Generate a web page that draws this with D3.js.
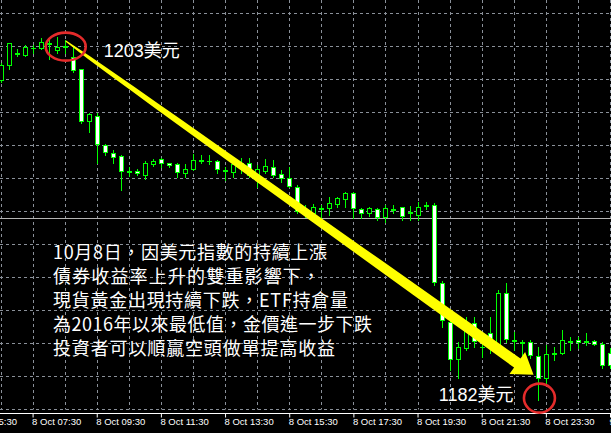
<!DOCTYPE html>
<html>
<head>
<meta charset="utf-8">
<script src="https://cdn.jsdelivr.net/npm/d3@7"></script>
<style>
html, body { margin: 0; padding: 0; background: #000; overflow: hidden; }
svg { display: block; }
</style>
</head>
<body>
<div id="chart"></div>
<script>
// XAUUSD, M15 bars, 8 Oct 2018
var firstBar = "2018-10-08 06:30";

var opens = [1200.96,1201.87,1202.62,1202.47,1202.87,1202.92,1203.14,1202.78,1202.99,1202.37,
             1201.61,1198.47,1198.79,1197.02,1196.55,1196.35,1195.40,1195.46,1195.20,1195.87,
             1196.15,1195.91,1195.85,1195.30,1195.55,1196.05,1196.05,1196.07,1195.46,1195.40,
             1195.95,1195.95,1195.20,1195.46,1195.67,1195.24,1195.04,1194.49,1193.02,1192.92,
             1193.22,1193.18,1193.44,1193.73,1194.09,1193.14,1192.88,1193.14,1192.67,1193.12,
             1193.24,1192.98,1192.78,1193.38,1193.38,1188.67,1186.31,1184.03,1184.70,1186.25,
             1184.78,1185.61,1184.59,1188.03,1185.17,1185.10,1185.10,1184.23,1182.88,1184.41,
             1184.39,1185.11,1185.20,1185.11,1185.14,1184.96,1184.39];
var highs = [1201.99,1203.20,1202.81,1203.05,1203.08,1203.48,1203.48,1203.55,1203.38,1202.98,
             1201.62,1198.93,1198.94,1197.05,1196.72,1196.41,1195.70,1195.55,1196.07,1196.15,
             1196.23,1195.93,1195.91,1195.85,1196.47,1196.41,1196.41,1196.11,1195.70,1196.21,
             1196.21,1196.25,1195.81,1196.15,1196.11,1195.50,1195.70,1194.59,1193.38,1193.44,
             1193.38,1193.88,1193.88,1194.19,1194.19,1193.18,1193.28,1193.18,1193.38,1193.38,
             1193.28,1193.32,1193.58,1193.58,1193.48,1188.79,1186.82,1185.10,1186.61,1186.61,
             1185.40,1186.61,1188.23,1188.67,1185.70,1185.20,1185.20,1184.79,1184.90,1184.79,
             1185.81,1185.40,1185.40,1185.61,1185.20,1185.10,1184.70];
var lows = [1200.84,1201.65,1202.41,1202.41,1202.59,1202.84,1202.23,1202.58,1202.58,1201.46,
            1198.33,1197.82,1195.91,1196.41,1195.91,1194.29,1195.14,1195.20,1194.94,1195.75,
            1195.70,1195.67,1195.10,1195.10,1195.50,1195.91,1195.85,1195.30,1194.90,1195.10,
            1195.30,1195.10,1194.49,1195.30,1195.10,1194.79,1194.49,1192.88,1192.67,1192.72,
            1192.05,1192.78,1193.28,1193.28,1192.58,1192.58,1192.72,1192.47,1192.37,1192.88,
            1192.47,1192.47,1192.47,1193.12,1188.53,1186.01,1183.38,1182.88,1184.59,1184.79,
            1184.15,1184.39,1184.39,1185.10,1184.59,1184.29,1184.09,1181.56,1182.58,1183.99,
            1184.36,1184.59,1184.70,1184.90,1184.90,1183.48,1183.50];
var closes = [1201.87,1203.17,1202.56,1202.98,1202.90,1203.28,1203.20,1202.98,1202.96,1201.56,
              1198.49,1198.88,1197.08,1196.61,1196.31,1195.46,1195.43,1195.30,1195.91,1196.07,
              1195.91,1195.79,1195.40,1195.56,1196.11,1196.08,1196.02,1195.55,1195.49,1195.87,
              1195.70,1195.20,1195.55,1195.75,1195.20,1195.04,1194.53,1193.02,1192.98,1193.24,
              1193.12,1193.52,1193.79,1194.09,1193.18,1192.88,1193.18,1192.67,1193.18,1193.09,
              1192.72,1192.90,1193.24,1193.35,1188.73,1186.41,1184.03,1184.76,1185.81,1185.16,
              1184.75,1185.20,1188.03,1185.24,1185.14,1185.00,1184.29,1182.88,1184.35,1184.38,
              1185.20,1185.08,1185.06,1185.08,1184.96,1183.68,1183.68];

// time axis labels (every 2 hours)
var tickTimes = ["2018-10-08 05:30","2018-10-08 07:30","2018-10-08 09:30","2018-10-08 11:30",
                 "2018-10-08 13:30","2018-10-08 15:30","2018-10-08 17:30","2018-10-08 19:30",
                 "2018-10-08 21:30","2018-10-08 23:30","2018-10-09 01:30"];

// horizontal price line
var levelPrice = 1192.58;

// annotations
var highMark = { time: "2018-10-08 08:32", price: 1202.98, label: "1203美元" };
var lowMark  = { time: "2018-10-08 23:18", price: 1181.68, label: "1182美元" };
var arrowFrom = { time: "2018-10-08 08:32", price: 1203.32 };
var arrowTo   = { time: "2018-10-08 23:07", price: 1183.10 };
var noteLines = ["10月8日，因美元指數的持續上漲",
                 "債券收益率上升的雙重影響下，",
                 "現貨黃金出現持續下跌，ETF持倉量",
                 "為2016年以來最低值，金價進一步下跌",
                 "投資者可以順贏空頭做單提高收益"];

var W = 611, H = 433;
var M15 = 15 * 60 * 1000;
var parse = d3.timeParse("%Y-%m-%d %H:%M");
var fmtTick = d3.timeFormat("%-d %b %H:%M");
var t0 = parse(firstBar);
var times = opens.map(function(d, i){ return new Date(+t0 + i * M15); });

var bars = opens.map(function(o, i){
	return { t: times[i], o: o, h: highs[i], l: lows[i], c: closes[i] };
});

var green = "#00ff00";
var gridColor = "#8a9099";

var svg = d3.select("#chart")
	.append("svg")
	.attr("width", W)
	.attr("height", H)
	.style("background", "#000");

// x and y
var x = d3.scaleTime()
	.domain([t0, times[times.length - 1]])
	.range([0.5, 0.5 + 8.02 * (times.length - 1)]);

var y = d3.scaleLinear()
	.domain([1181, 1205])
	.range([409.3, 13.3]);

var gridBottom = Math.round(y(1181)) + 0.5;

// grid, vertical every hour
var gridG = svg.append("g").attr("class", "grid");
var vTimes = d3.range(-4, times.length + 4, 4).map(function(k){ return new Date(+t0 + k * M15); });
gridG.selectAll("line.v")
	.data(vTimes)
	.enter().append("line")
	.attr("class", "v")
	.attr("x1", function(d){ return Math.round(x(d)) + 0.5; })
	.attr("x2", function(d){ return Math.round(x(d)) + 0.5; })
	.attr("y1", 0)
	.attr("y2", gridBottom)
	.attr("stroke", gridColor)
	.attr("stroke-dasharray", "3,3");

// grid, horizontal every 2 dollars
gridG.selectAll("line.h")
	.data(d3.range(1181, 1206, 2))
	.enter().append("line")
	.attr("class", "h")
	.attr("x1", 0)
	.attr("x2", W)
	.attr("y1", function(d){ return Math.round(y(d)) + 0.5; })
	.attr("y2", function(d){ return Math.round(y(d)) + 0.5; })
	.attr("stroke", gridColor)
	.attr("stroke-dasharray", "3,3");

// price line
svg.append("line")
	.attr("x1", 0).attr("x2", W)
	.attr("y1", Math.round(y(levelPrice)) + 0.5)
	.attr("y2", Math.round(y(levelPrice)) + 0.5)
	.attr("stroke", "#b4b4b4");

// candles
var candle = svg.append("g").attr("class", "candles")
	.selectAll("g")
	.data(bars)
	.enter().append("g");

candle.append("rect")   // wick
	.attr("x", function(d){ return Math.round(x(d.t)); })
	.attr("width", 1)
	.attr("y", function(d){ return Math.round(y(d.h)); })
	.attr("height", function(d){ return Math.round(y(d.l)) - Math.round(y(d.h)) + 1; })
	.attr("fill", green);

candle.append("rect")   // body outline
	.attr("x", function(d){ return Math.round(x(d.t)) - 2; })
	.attr("width", 5)
	.attr("y", function(d){ return Math.round(y(Math.max(d.o, d.c))); })
	.attr("height", function(d){
		return Math.round(y(Math.min(d.o, d.c))) - Math.round(y(Math.max(d.o, d.c))) + 1; })
	.attr("fill", green);

candle.append("rect")   // body fill: black up, white down
	.attr("x", function(d){ return Math.round(x(d.t)) - 1; })
	.attr("width", 3)
	.attr("y", function(d){ return Math.round(y(Math.max(d.o, d.c))) + 1; })
	.attr("height", function(d){
		return Math.max(0, Math.round(y(Math.min(d.o, d.c))) - Math.round(y(Math.max(d.o, d.c))) - 1); })
	.attr("fill", function(d){ return d.c > d.o ? "#000" : "#fff"; });

// x axis
var xAxisCall = d3.axisBottom(x)
	.tickValues(tickTimes.map(parse))
	.tickFormat(fmtTick)
	.tickSize(4)
	.tickSizeOuter(0);

var axisY = gridBottom + 4;
var xAxis = svg.append("g")
	.attr("class", "x-axis")
	.attr("transform", "translate(0," + axisY + ")")
	.call(xAxisCall);
xAxis.select(".domain").remove();
xAxis.selectAll(".tick line").attr("stroke", "#fff");
xAxis.selectAll(".tick text")
	.attr("fill", "#fff")
	.attr("font-family", "'Liberation Sans', Arial, sans-serif")
	.attr("font-size", "9.5px")
	.attr("text-anchor", "start")
	.attr("x", -1)
	.attr("y", 11)
	.attr("dy", 0);
svg.append("line")
	.attr("x1", 0).attr("x2", W)
	.attr("y1", axisY).attr("y2", axisY)
	.attr("stroke", "#fff");

// arrow, tapered shaft
var S = [x(parse(arrowFrom.time)), y(arrowFrom.price)];
var T = [x(parse(arrowTo.time)), y(arrowTo.price)];
var len = Math.hypot(T[0] - S[0], T[1] - S[1]);
var u = [(T[0] - S[0]) / len, (T[1] - S[1]) / len];
var n = [-u[1], u[0]];
var headLen = 20, headHalf = 13.5, w0 = 0.6, w1 = 5.5;
var shaftLen = len - headLen;
var left = [], right = [];
d3.range(0, 21).forEach(function(k){
	var f = k / 20;
	var hw = w0 + (w1 - w0) * Math.sqrt(f);
	var p = [S[0] + u[0] * shaftLen * f, S[1] + u[1] * shaftLen * f];
	left.push([p[0] + n[0] * hw, p[1] + n[1] * hw]);
	right.push([p[0] - n[0] * hw, p[1] - n[1] * hw]);
});
var B = [S[0] + u[0] * shaftLen, S[1] + u[1] * shaftLen];
var pts = left.concat([
	[B[0] + n[0] * headHalf, B[1] + n[1] * headHalf],
	T,
	[B[0] - n[0] * headHalf, B[1] - n[1] * headHalf]
]).concat(right.reverse());
svg.append("polygon")
	.attr("points", pts.map(function(p){ return p.join(","); }).join(" "))
	.attr("fill", "#ffff00");

// circles and price labels
var hx = x(parse(highMark.time)), hy = y(highMark.price);
var lx = x(parse(lowMark.time)), ly = y(lowMark.price);

svg.append("ellipse")
	.attr("cx", hx).attr("cy", hy)
	.attr("rx", 20).attr("ry", 14)
	.attr("fill", "none")
	.attr("stroke", "#e42b2b")
	.attr("stroke-width", 2.6);

svg.append("ellipse")
	.attr("cx", lx).attr("cy", ly)
	.attr("rx", 15.5).attr("ry", 14.5)
	.attr("fill", "none")
	.attr("stroke", "#e42b2b")
	.attr("stroke-width", 2.6);

var labelFont = "'Liberation Sans', 'Noto Sans CJK TC', sans-serif";
svg.append("text")
	.attr("x", hx + 38)
	.attr("y", hy + 10)
	.attr("fill", "#fff")
	.attr("font-family", labelFont)
	.attr("font-size", "18px")
	.text(highMark.label);

svg.append("text")
	.attr("x", lx - 26)
	.attr("y", ly + 3)
	.attr("text-anchor", "end")
	.attr("fill", "#fff")
	.attr("font-family", labelFont)
	.attr("font-size", "18px")
	.text(lowMark.label);

// note text, widths fitted to the picture
var noteWidths = [274, 267, 295, 319, 282];
svg.append("g")
	.selectAll("text")
	.data(noteLines)
	.enter().append("text")
	.attr("x", 53)
	.attr("y", function(d, i){ return 259.3 + i * 24; })
	.attr("fill", "#fff")
	.attr("font-family", "'Noto Sans CJK TC', sans-serif")
	.attr("font-size", "18px")
	.attr("textLength", function(d, i){ return noteWidths[i]; })
	.attr("lengthAdjust", "spacing")
	.text(function(d){ return d; });
</script>
</body>
</html>
